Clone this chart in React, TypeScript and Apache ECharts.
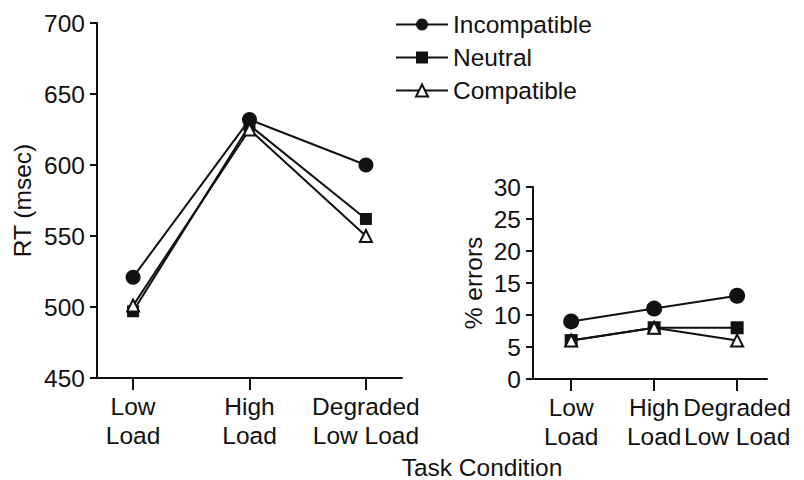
import React, { useEffect, useRef } from "react";
import * as echarts from "echarts";

const categories = ["Low\nLoad", "High\nLoad", "Degraded\nLow Load"];
const seriesNames = ["Incompatible", "Neutral", "Compatible"];
const rtIncompatible = [521, 632, 600];
const rtNeutral = [497, 628, 562];
const rtCompatible = [501, 625, 550];
const errIncompatible = [9, 11, 13];
const errNeutral = [6, 8, 8];
const errCompatible = [6, 8, 6];
const catIndex = [0, 1, 2];

const FONT = "'Liberation Sans', Arial, Helvetica, sans-serif";
const INK = "#111";
const FS = 24.5;

function pts(vals: number[]) {
  return vals.map((v, i) => [catIndex[i], v]);
}

export default function App() {
  const ref = useRef<HTMLDivElement>(null);
  useEffect(() => {
    if (!ref.current) return;
    const chart = echarts.init(ref.current, undefined, { renderer: "svg" });
    const axisText = { color: INK, fontSize: FS, fontFamily: FONT };
    const xAxisBase = (min: number, max: number, gridIndex: number) => ({
      type: "value",
      gridIndex,
      min,
      max,
      splitLine: { show: false },
      axisLine: { show: true, onZero: false, lineStyle: { color: INK, width: 2 } },
      axisTick: { show: true, customValues: catIndex, length: 12, lineStyle: { color: INK, width: 2 } },
      axisLabel: {
        show: true,
        customValues: catIndex,
        formatter: (v: number) => categories[Math.round(v)] ?? "",
        ...axisText,
        lineHeight: 29,
        margin: 14,
      },
    });
    const yAxisBase = (min: number, max: number, interval: number, gridIndex: number, name: string, nameGap: number) => ({
      type: "value",
      gridIndex,
      min,
      max,
      interval,
      name,
      nameLocation: "middle",
      nameGap,
      nameTextStyle: { ...axisText },
      splitLine: { show: false },
      axisLine: { show: true, onZero: false, lineStyle: { color: INK, width: 2 } },
      axisTick: { show: true, length: 7, lineStyle: { color: INK, width: 2 } },
      axisLabel: { ...axisText, margin: 12 },
    });
    const mk = (name: string, data: number[], idx: number, symbol: string, size: number, hollow: boolean) => ({
      type: "line",
      name,
      xAxisIndex: idx,
      yAxisIndex: idx,
      data: pts(data),
      symbol,
      symbolSize: size,
      showSymbol: true,
      lineStyle: { color: INK, width: 2 },
      itemStyle: hollow
        ? { color: "#fff", borderColor: INK, borderWidth: 2 }
        : { color: INK, borderColor: INK, borderWidth: 0 },
      emphasis: { disabled: true },
    });
    chart.setOption({
      animation: false,
      textStyle: { fontFamily: FONT, color: INK },
      grid: [
        { left: 97, top: 23, width: 305, height: 355, containLabel: false, outerBoundsMode: "none" },
        { left: 533, top: 187, width: 234, height: 192, containLabel: false, outerBoundsMode: "none" },
      ],
      xAxis: [xAxisBase(-0.31, 2.31, 0), xAxisBase(-0.46, 2.36, 1)],
      yAxis: [
        yAxisBase(450, 700, 50, 0, "RT (msec)", 62),
        yAxisBase(0, 30, 5, 1, "% errors", 47),
      ],
      legend: {
        show: true,
        orient: "vertical",
        left: 390,
        top: 7,
        padding: 5,
        itemWidth: 52,
        itemHeight: 15,
        itemGap: 8,
        data: seriesNames,
        textStyle: { ...axisText },
        selectedMode: false,
      },
      graphic: [
        {
          type: "text",
          x: 482,
          y: 467,
          style: {
            text: "Task Condition",
            fill: INK,
            font: `${FS}px ${FONT}`,
            align: "center",
            verticalAlign: "middle",
          },
        },
      ],
      series: [
        mk(seriesNames[0], rtIncompatible, 0, "circle", 15, false),
        mk(seriesNames[1], rtNeutral, 0, "rect", 12, false),
        mk(seriesNames[2], rtCompatible, 0, "triangle", 12, true),
        mk(seriesNames[0], errIncompatible, 1, "circle", 16, false),
        mk(seriesNames[1], errNeutral, 1, "rect", 13, false),
        mk(seriesNames[2], errCompatible, 1, "triangle", 12, true),
      ],
    });
    return () => chart.dispose();
  }, []);
  return (
    <div
      ref={ref}
      style={{ position: "fixed", left: 0, top: 0, width: 804, height: 480, background: "#fff" }}
    />
  );
}
